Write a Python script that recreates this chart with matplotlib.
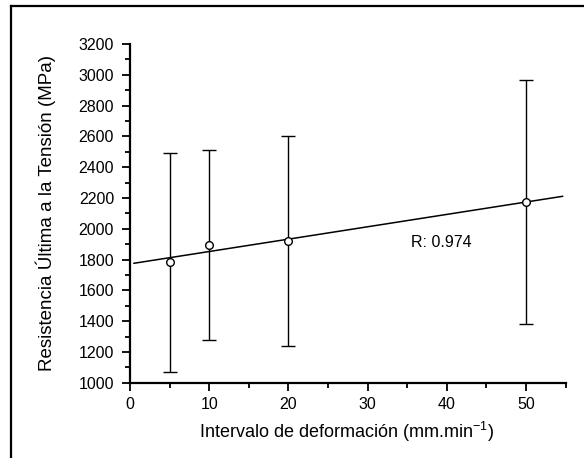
import numpy as np
import matplotlib.pyplot as plt
from matplotlib.ticker import MultipleLocator
from matplotlib.lines import Line2D

plt.rcParams['font.family'] = ['Liberation Sans', 'DejaVu Sans']

# Resistencia vs. intervalo de deformación
intervalo = [5, 10, 20, 50]
resistencia = [1782, 1895, 1920, 2173]
desviacion = [713, 616, 681, 794]
r_texto = "R: 0.974"

fig = plt.figure(figsize=(5.84, 4.58), dpi=100)

# marco exterior (solo izquierda y arriba)
fig.add_artist(Line2D([11 / 584, 11 / 584], [0, 1 - 6 / 458], color='black', lw=1.6))
fig.add_artist(Line2D([11 / 584, 1], [1 - 6 / 458, 1 - 6 / 458], color='black', lw=1.6))

ax = fig.add_axes([130 / 584, 1 - 382.7 / 458, (565.7 - 130) / 584, (382.7 - 44) / 458])

ax.errorbar(intervalo, resistencia, yerr=desviacion, fmt='o', color='black',
            mfc='white', mec='black', ms=5.5, mew=1.0, elinewidth=1.0,
            capsize=5, capthick=1.0, zorder=3)

# ajuste lineal
m, b = np.polyfit(intervalo, resistencia, 1)
xs = np.array([0.5, 54.6])
ax.plot(xs, m * xs + b, color='black', lw=1.1, zorder=2)

ax.text(35.5, 1909, r_texto, fontsize=11.5, va='center', ha='left')

ax.set_xlim(0, 55)
ax.set_ylim(1000, 3200)
ax.xaxis.set_major_locator(MultipleLocator(10))
ax.xaxis.set_minor_locator(MultipleLocator(5))
ax.yaxis.set_major_locator(MultipleLocator(200))
ax.yaxis.set_minor_locator(MultipleLocator(100))

for s in ['top', 'right']:
    ax.spines[s].set_visible(False)
for s in ['left', 'bottom']:
    ax.spines[s].set_linewidth(1.6)

ax.tick_params(which='major', direction='out', length=6, width=1.3, labelsize=11.5)
ax.tick_params(which='minor', direction='out', length=3.5, width=1.3)
ax.tick_params(axis='y', which='major', pad=5.5)
ax.tick_params(axis='x', which='major', pad=4)

ax.set_xlabel("Intervalo de deformación (mm.min$^{\\mathregular{-1}}$)", fontsize=13)
ax.set_ylabel("Resistencia Última a la Tensión (MPa)", fontsize=13.5)
ax.xaxis.set_label_coords(0.496, -0.145)
ax.yaxis.set_label_coords(-0.193, 0.5)
ax.xaxis.label.set_va('center')
ax.yaxis.label.set_va('center')

fig.savefig('out.png', dpi=100)
